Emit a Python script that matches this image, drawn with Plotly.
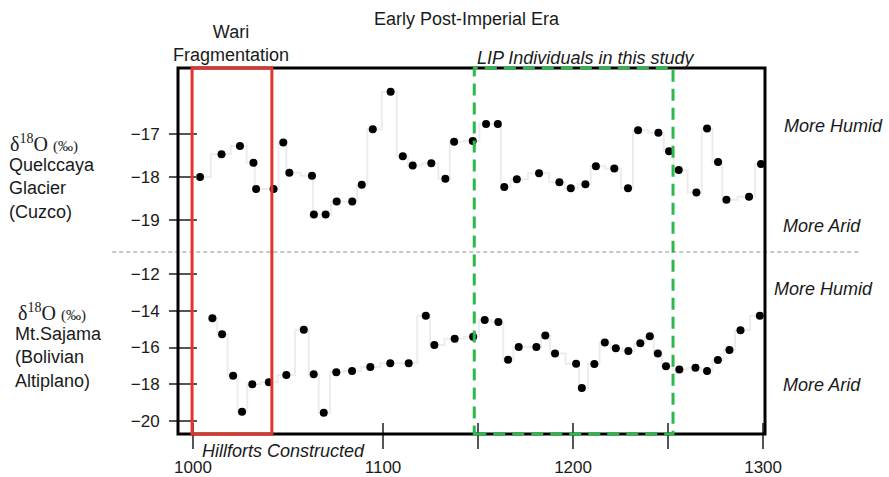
import plotly.graph_objects as go

# ---------------- data ----------------
top_years = [1003.7, 1015.0, 1024.7, 1031.8, 1033.2, 1042.4, 1047.5, 1050.7, 1062.6, 1063.6,
             1069.8, 1075.6, 1083.8, 1088.8, 1094.6, 1104.0, 1110.4, 1115.6, 1125.4, 1132.8,
             1137.4, 1147.2, 1154.2, 1160.4, 1163.8, 1170.4, 1182.1, 1192.8, 1198.8, 1206.5,
             1212.0, 1221.7, 1228.9, 1234.2, 1244.9, 1250.5, 1255.6, 1264.9, 1270.5, 1276.3,
             1280.7, 1292.6, 1298.9]
top_vals = [-18.0, -17.47, -17.28, -17.67, -18.28, -18.28, -17.2, -17.9, -17.97, -18.87,
            -18.87, -18.57, -18.57, -18.18, -16.89, -16.02, -17.52, -17.73, -17.68, -18.04,
            -17.18, -17.16, -16.77, -16.77, -18.23, -18.05, -17.91, -18.12, -18.26, -18.17,
            -17.75, -17.8, -18.26, -16.91, -16.97, -17.4, -17.84, -18.36, -16.87, -17.65,
            -18.53, -18.46, -17.7]

bot_years = [1010.2, 1015.3, 1021.1, 1025.8, 1031.2, 1039.9, 1049.1, 1058.3, 1063.5, 1068.8,
             1075.4, 1083.7, 1093.3, 1103.8, 1113.5, 1122.5, 1127.0, 1137.7, 1147.4, 1153.5,
             1160.7, 1165.8, 1171.4, 1180.7, 1185.4, 1190.5, 1201.6, 1204.6, 1211.2, 1216.7,
             1222.5, 1229.1, 1235.4, 1240.4, 1244.6, 1248.9, 1255.9, 1264.4, 1270.5, 1276.2,
             1282.3, 1288.1, 1298.3]
bot_vals = [-14.41, -15.28, -17.53, -19.49, -18.0, -17.89, -17.5, -15.03, -17.46, -19.55,
            -17.35, -17.28, -17.06, -16.86, -16.86, -14.27, -15.86, -15.52, -15.41, -14.5,
            -14.61, -16.66, -15.97, -15.97, -15.34, -16.32, -16.88, -18.2, -16.9, -15.72,
            -16.04, -16.19, -15.77, -15.39, -16.32, -17.02, -17.19, -17.1, -17.28, -16.68,
            -16.14, -15.06, -14.27]

x_major_ticks = [1000, 1100, 1200, 1300]
x_minor_ticks = [1150, 1250]
top_ticks = [-17, -18, -19]
bot_ticks = [-12, -14, -16, -18, -20]

wari_span = [999.5, 1041.5]
lip_span = [1148.0, 1252.6]

# ---------------- layout constants ----------------
X_RANGE = [992.1, 1301.0]
TOP_RANGE = [-19.744, -15.465]
BOT_RANGE = [-20.707, -10.80]
SPLIT = 0.4973

FONT = "Liberation Sans, Arial, Helvetica, sans-serif"
SERIF = "Liberation Serif, Times New Roman, serif"
TICKC = "#555555"

fig = go.Figure()

step_line = dict(shape="hvh", color="#ededed", width=2)
dot = dict(color="black", size=8)

fig.add_trace(go.Scatter(x=top_years, y=top_vals, xaxis="x2", yaxis="y2",
                         mode="lines+markers", line=step_line, marker=dot,
                         hoverinfo="x+y"))
fig.add_trace(go.Scatter(x=bot_years, y=bot_vals, xaxis="x", yaxis="y",
                         mode="lines+markers", line=step_line, marker=dot,
                         hoverinfo="x+y"))
# dummy traces so the overlay tick axes are drawn
for xa, ya in [("x3", "y"), ("x", "y3"), ("x2", "y4")]:
    fig.add_trace(go.Scatter(x=[None], y=[None], xaxis=xa, yaxis=ya,
                             mode="markers", hoverinfo="skip", showlegend=False))

tickfont = dict(family=FONT, size=17, color="#1a1a1a")
common = dict(showgrid=False, zeroline=False, showline=False, automargin=False)

fig.update_layout(
    width=889, height=477,
    margin=dict(l=178, r=124, t=68, b=43),
    paper_bgcolor="white", plot_bgcolor="white",
    showlegend=False,
    font=dict(family=FONT, color="#1a1a1a"),
    xaxis=dict(domain=[0, 1], anchor="y", range=X_RANGE, tickvals=x_major_ticks,
               ticks="outside", ticklen=14, tickwidth=1.5,
               tickcolor=TICKC, tickfont=tickfont, ticklabelstandoff=4,
               minor=dict(tickvals=x_minor_ticks, ticks="outside", ticklen=14,
                          tickwidth=1.5, tickcolor=TICKC, showgrid=False),
               **common),
    xaxis2=dict(domain=[0, 1], anchor="y2", range=X_RANGE, showticklabels=False,
                ticks="", **common),
    xaxis3=dict(overlaying="x", anchor="y", side="bottom", range=X_RANGE,
                tickvals=x_major_ticks, ticks="inside", ticklen=11, tickwidth=1.5,
                tickcolor=TICKC, showticklabels=False,
                minor=dict(tickvals=x_minor_ticks, ticks="inside", ticklen=11,
                           tickwidth=1.5, tickcolor=TICKC, showgrid=False),
                **common),
    yaxis=dict(domain=[0, SPLIT], anchor="x", range=BOT_RANGE, tickvals=bot_ticks,
               ticks="outside", ticklen=8, tickwidth=1.5, tickcolor=TICKC,
               tickfont=tickfont, ticklabelstandoff=6, **common),
    yaxis2=dict(domain=[SPLIT, 1], anchor="x2", range=TOP_RANGE, tickvals=top_ticks,
                ticks="outside", ticklen=8, tickwidth=1.5, tickcolor=TICKC,
                tickfont=tickfont, ticklabelstandoff=6, **common),
    yaxis3=dict(overlaying="y", anchor="x", side="left", range=BOT_RANGE,
                tickvals=bot_ticks, ticks="inside", ticklen=19, tickwidth=1.5,
                tickcolor=TICKC, showticklabels=False, **common),
    yaxis4=dict(overlaying="y2", anchor="x2", side="left", range=TOP_RANGE,
                tickvals=top_ticks, ticks="inside", ticklen=19, tickwidth=1.5,
                tickcolor=TICKC, showticklabels=False, **common),
)

shapes = [
    # divider between the two records
    dict(type="line", xref="paper", yref="paper", x0=-0.112, x1=1.162, y0=SPLIT, y1=SPLIT,
         line=dict(color="#b5b5b5", width=1.5, dash="4px,3px"), layer="above"),
    # black frame
    dict(type="rect", xref="paper", yref="paper", x0=0, x1=1, y0=0, y1=1,
         line=dict(color="black", width=3), layer="above"),
    # Wari fragmentation window
    dict(type="rect", xref="x", yref="paper", x0=wari_span[0], x1=wari_span[1], y0=0, y1=1,
         line=dict(color="#e3342a", width=3), layer="above"),
    # LIP individuals window
    dict(type="rect", xref="x", yref="paper", x0=lip_span[0], x1=lip_span[1], y0=0, y1=1,
         line=dict(color="#2cb84b", width=3, dash="12px,7px"), layer="above"),
]
fig.update_layout(shapes=shapes)

def ann(text, x, y, xanchor="left", size=18, italic=False, family=FONT, align="left"):
    return dict(text=text, x=x, y=y, xref="paper", yref="paper", xanchor=xanchor,
                yanchor="middle", showarrow=False, align=align,
                font=dict(family=family, size=size, color="#1a1a1a",
                          style="italic" if italic else "normal"))

delta = "δ<sup>18</sup>O <span style='font-size:15px'>(‰)</span>"

annotations = [
    ann("Wari<br>Fragmentation", 0.0903, 1.068, xanchor="center", align="center"),
    ann("Early Post-Imperial Era", 0.4918, 1.134, xanchor="center"),
    ann("LIP Individuals in this study", 0.694, 1.027, xanchor="center", italic=True),
    ann("Hillforts Constructed", 0.0375, -0.046, italic=True),
    ann("More Humid", 1.029, 0.8415, italic=True),
    ann("More Arid", 1.027, 0.568, italic=True),
    ann("More Humid", 1.012, 0.396, italic=True),
    ann("More Arid", 1.027, 0.134, italic=True),
    ann(delta, -0.2896, 0.795, family=SERIF, size=20),
    ann("Quelccaya<br>Glacier<br>(Cuzco)", -0.2913, 0.672),
    ann(delta, -0.276, 0.333, family=SERIF, size=20),
    ann("Mt.Sajama<br>(Bolivian<br>Altiplano)", -0.281, 0.2077),
]
fig.update_layout(annotations=annotations)

fig.write_html("out.html")
